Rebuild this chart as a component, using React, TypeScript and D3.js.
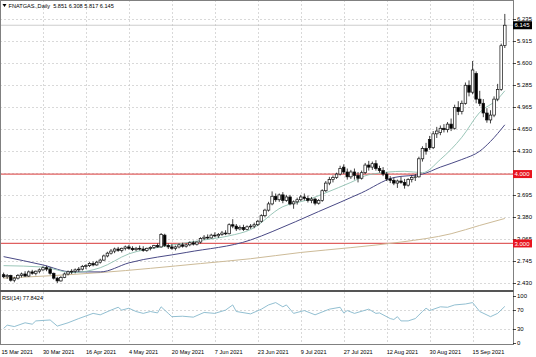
import React from 'react';
import * as d3 from 'd3';

// ---------- data ----------
const dateLabels = ['15 Mar 2021','30 Mar 2021','16 Apr 2021','4 May 2021','20 May 2021','7 Jun 2021','23 Jun 2021','9 Jul 2021','27 Jul 2021','12 Aug 2021','30 Aug 2021','15 Sep 2021'];
const dateLabelIdx = [0,11,23,35,47,59,71,83,95,107,119,131];

const opens = [2.55,2.52,2.54,2.47,2.50,2.54,2.56,2.53,2.59,2.57,2.60,2.62,2.65,2.63,2.57,2.50,2.46,2.51,2.56,2.59,
2.60,2.62,2.63,2.67,2.68,2.71,2.69,2.73,2.76,2.82,2.86,2.89,2.92,2.90,2.93,2.95,2.93,2.91,2.93,2.92,
2.90,2.93,2.94,2.97,2.95,3.12,2.97,2.95,2.93,2.95,2.98,2.96,2.98,3.01,2.99,3.02,3.07,3.09,3.08,3.12,
3.11,3.13,3.15,3.14,3.27,3.25,3.21,3.23,3.20,3.24,3.25,3.27,3.32,3.40,3.48,3.57,3.68,3.63,3.70,3.62,
3.67,3.57,3.60,3.63,3.67,3.65,3.62,3.64,3.58,3.62,3.76,3.87,3.92,3.95,4.00,4.10,4.03,3.96,4.03,3.98,
3.94,4.02,4.13,4.10,4.15,4.08,4.05,4.00,3.93,3.91,3.87,3.90,3.88,3.84,3.92,3.95,3.96,4.22,4.37,4.50,
4.38,4.58,4.60,4.66,4.64,4.72,4.66,4.96,4.90,5.02,5.28,5.18,5.45,5.08,5.02,4.88,4.78,4.85,5.08,5.22,5.851];
const highs = [2.58,2.56,2.55,2.52,2.56,2.58,2.60,2.61,2.62,2.61,2.64,2.67,2.68,2.66,2.58,2.52,2.53,2.58,2.61,2.63,
2.64,2.66,2.69,2.70,2.73,2.74,2.75,2.78,2.84,2.88,2.92,2.94,2.95,2.94,2.97,2.98,2.96,2.95,2.97,2.96,
2.94,2.96,2.98,3.00,3.15,3.14,3.00,2.99,2.97,3.00,3.01,3.00,3.03,3.04,3.03,3.09,3.12,3.13,3.14,3.16,
3.15,3.18,3.19,3.29,3.35,3.28,3.26,3.27,3.26,3.28,3.30,3.34,3.42,3.50,3.60,3.75,3.72,3.72,3.74,3.70,
3.70,3.62,3.66,3.70,3.72,3.69,3.67,3.66,3.64,3.78,3.90,3.96,3.98,4.02,4.12,4.14,4.08,4.06,4.08,4.03,
4.05,4.16,4.19,4.18,4.20,4.12,4.10,4.03,3.97,3.95,3.92,3.96,3.93,3.94,3.98,4.00,4.25,4.40,4.45,4.55,
4.62,4.68,4.70,4.72,4.75,4.80,5.00,5.05,5.06,5.32,5.35,5.63,5.48,5.20,5.08,4.95,4.92,5.12,5.30,5.88,6.308];
const lows = [2.50,2.49,2.45,2.44,2.48,2.51,2.52,2.52,2.55,2.54,2.57,2.60,2.60,2.55,2.48,2.43,2.45,2.50,2.54,2.56,
2.57,2.59,2.61,2.63,2.66,2.67,2.68,2.71,2.75,2.80,2.84,2.86,2.88,2.87,2.90,2.91,2.89,2.89,2.90,2.88,
2.88,2.90,2.92,2.94,2.94,2.95,2.92,2.91,2.90,2.93,2.94,2.94,2.96,2.97,2.97,3.00,3.05,3.06,3.07,3.09,
3.08,3.11,3.12,3.13,3.22,3.18,3.19,3.18,3.19,3.21,3.22,3.25,3.30,3.38,3.46,3.55,3.60,3.60,3.58,3.60,
3.55,3.50,3.56,3.61,3.62,3.59,3.58,3.55,3.56,3.60,3.74,3.84,3.88,3.93,3.98,4.00,3.92,3.93,3.92,3.88,
3.92,4.00,4.05,4.06,4.05,4.02,3.97,3.90,3.87,3.84,3.80,3.86,3.79,3.82,3.88,3.90,3.95,4.18,4.28,4.35,
4.36,4.52,4.56,4.60,4.60,4.62,4.64,4.85,4.86,5.00,5.12,5.15,5.02,4.98,4.82,4.74,4.73,4.82,5.05,5.20,5.817];
const closes = [2.52,2.54,2.47,2.50,2.54,2.56,2.53,2.59,2.57,2.60,2.62,2.65,2.63,2.57,2.50,2.46,2.51,2.56,2.59,2.60,
2.62,2.63,2.67,2.68,2.71,2.69,2.73,2.76,2.82,2.86,2.89,2.92,2.90,2.93,2.95,2.93,2.91,2.93,2.92,2.90,
2.93,2.94,2.97,2.95,3.13,2.97,2.95,2.93,2.95,2.98,2.96,2.98,3.01,2.99,3.02,3.07,3.09,3.08,3.12,3.11,
3.13,3.15,3.14,3.27,3.25,3.21,3.23,3.20,3.24,3.25,3.27,3.32,3.40,3.48,3.57,3.68,3.63,3.70,3.62,3.67,
3.57,3.60,3.63,3.67,3.65,3.62,3.64,3.58,3.62,3.76,3.87,3.92,3.95,4.00,4.08,4.03,3.96,4.03,3.98,3.94,
4.02,4.13,4.10,4.15,4.08,4.05,4.00,3.93,3.91,3.87,3.90,3.88,3.84,3.92,3.95,3.96,4.22,4.37,4.33,4.38,
4.58,4.62,4.66,4.64,4.72,4.66,4.96,4.90,5.02,5.28,5.18,5.50,5.08,5.02,4.88,4.78,4.85,5.08,5.22,5.85,6.145];

// moving averages (bar index, value)
const maFastIdx = [0,11,19,27,35,44,56,63,69,78,85,90,97,102,112,117,122,128,133,138,140];
const maFastVal = [2.68,2.66,2.58,2.65,2.85,2.95,3.05,3.11,3.20,3.53,3.63,3.73,3.88,3.99,4.04,4.02,4.21,4.53,4.89,5.08,5.20];
const maMidIdx = [0,11,19,27,35,51,69,75,88,100,109,117,122,128,133,136,140];
const maMidVal = [2.81,2.69,2.59,2.59,2.72,2.87,3.05,3.17,3.46,3.73,3.95,4.00,4.10,4.21,4.33,4.47,4.71];
const maSlowIdx = [0,27,55,69,83,97,111,125,133,140];
const maSlowVal = [2.50,2.58,2.71,2.78,2.87,2.94,3.02,3.14,3.26,3.36];

const rsiIdx = [0,1,3,6,8,9,13,15,18,21,25,27,30,32,33,35,37,39,41,43,44,46,47,50,53,56,59,62,64,65,69,72,74,76,78,79,81,84,87,91,94,95,96,98,102,104,105,108,109,110,111,113,115,117,118,119,122,124,126,129,131,133,136,138,140];
const rsiVal = [31,38,35,43,40,47,49,36,43,52,63,60,70,76,70,74,67,63,67,64,77,63,56,57,55,65,63,70,81,67,62,72,81,86,77,81,63,69,60,72,76,64,69,63,72,63,64,52,50,56,47,47,52,67,74,69,77,76,81,83,86,67,56,63,77.84];

const priceTicks = [6.235,5.915,5.600,5.285,4.965,4.650,4.330,4.010,3.695,3.380,3.065,2.745,2.430];
const hiddenTickLabels = [4.010];
const levelLines = [4.000, 3.000];
const rsiTicks = [100,70,30,0];
const rsiGrid = [70,30];
const header = 'FNATGAS.,Daily  5.851 6.308 5.817 6.145';
const rsiTitle = 'RSI(14) 77.8424';

// ---------- layout ----------
const W = 536, H = 357;
const PR = 513;
const MAIN_TOP = 0, MAIN_BOT = 290;
const RSI_TOP = 292, RSI_BOT = 344;
const FONT = '"Liberation Sans", Arial, sans-serif';

export default function App() {
  const n = closes.length;
  const x = d3.scaleLinear().domain([0, n - 1]).range([3.6, 3.6 + (n - 1) * 3.58]);
  const y = d3.scaleLinear().domain([2.43, 6.235]).range([283, 19]);
  const yr = d3.scaleLinear().domain([0, 100]).range([343, 296]);
  const bw = 2.6;

  const maLine = d3.line<number>().curve(d3.curveMonotoneX);
  const mk = (idx: number[], val: number[]) =>
    maLine(idx.map((d, i) => [x(d), y(val[i])] as any) as any) || '';
  const rsiPath = d3.line<[number, number]>()(rsiIdx.map((d, i) => [x(d), yr(rsiVal[i])])) || '';

  const last = closes[n - 1];

  return (
    <svg width={W} height={H} style={{ position: 'absolute', left: 0, top: 0, background: '#fff' }}
      fontFamily={FONT}>
      <defs>
        <clipPath id="mainClip"><rect x={0} y={MAIN_TOP} width={PR} height={MAIN_BOT - MAIN_TOP} /></clipPath>
        <clipPath id="rsiClip"><rect x={0} y={RSI_TOP} width={PR} height={RSI_BOT - RSI_TOP} /></clipPath>
      </defs>
      <rect x={0} y={0} width={W} height={H} fill="#fff" />

      {/* horizontal grid main */}
      {priceTicks.map((t) => (
        <line key={'g' + t} x1={0} x2={PR} y1={Math.round(y(t)) + 0.5} y2={Math.round(y(t)) + 0.5}
          stroke="#c8c8c8" strokeWidth={0.7} strokeDasharray="2,2" />
      ))}
      {/* vertical grid */}
      {dateLabelIdx.slice(1).map((d) => (
        <g key={'v' + d}>
          <line x1={Math.round(x(d)) + 0.5} x2={Math.round(x(d)) + 0.5} y1={MAIN_TOP} y2={MAIN_BOT}
            stroke="#c8c8c8" strokeWidth={0.7} strokeDasharray="2,2" />
          <line x1={Math.round(x(d)) + 0.5} x2={Math.round(x(d)) + 0.5} y1={RSI_TOP} y2={RSI_BOT}
            stroke="#c8c8c8" strokeWidth={0.7} strokeDasharray="2,2" />
        </g>
      ))}
      {/* rsi grid */}
      {rsiGrid.map((t) => (
        <line key={'rg' + t} x1={0} x2={PR} y1={Math.round(yr(t)) + 0.5} y2={Math.round(yr(t)) + 0.5}
          stroke="#c8c8c8" strokeWidth={0.7} strokeDasharray="2,2" />
      ))}

      {/* level lines */}
      {levelLines.map((l) => (
        <line key={'l' + l} x1={0} x2={PR} y1={y(l)} y2={y(l)} stroke="#e06060" strokeWidth={1.2} />
      ))}
      {/* current price line */}
      <line x1={0} x2={PR} y1={y(last)} y2={y(last)} stroke="#c0c0c0" strokeWidth={0.8} />

      <g clipPath="url(#mainClip)">
        {/* moving averages */}
        <path d={mk(maSlowIdx, maSlowVal)} fill="none" stroke="#cdbb98" strokeWidth={1} />
        <path d={mk(maMidIdx, maMidVal)} fill="none" stroke="#4a4a86" strokeWidth={1} />
        <path d={mk(maFastIdx, maFastVal)} fill="none" stroke="#8fc0b0" strokeWidth={0.9} />

        {/* candles */}
        {closes.map((c, i) => {
          const o = opens[i];
          const up = c >= o;
          const cx = x(i);
          const top = y(Math.max(o, c));
          const bot = y(Math.min(o, c));
          return (
            <g key={'c' + i}>
              <line x1={cx} x2={cx} y1={y(highs[i])} y2={y(lows[i])} stroke="#111" strokeWidth={0.8} />
              <rect x={cx - bw / 2} y={top} width={bw} height={Math.max(bot - top, 0.8)}
                fill={up ? '#fff' : '#000'} stroke="#111" strokeWidth={0.7} />
            </g>
          );
        })}
      </g>

      {/* rsi line */}
      <g clipPath="url(#rsiClip)">
        <path d={rsiPath} fill="none" stroke="#86b8cc" strokeWidth={0.9} />
      </g>

      {/* borders */}
      <rect x={0.5} y={0.5} width={PR} height={RSI_BOT} fill="none" stroke="#808080" strokeWidth={1} />
      <line x1={0} x2={PR + 0.5} y1={MAIN_BOT + 1} y2={MAIN_BOT + 1} stroke="#555" strokeWidth={2} />

      {/* right axis ticks */}
      {priceTicks.map((t) => (
        <g key={'t' + t}>
          <line x1={PR} x2={PR + 3} y1={Math.round(y(t)) + 0.5} y2={Math.round(y(t)) + 0.5} stroke="#000" strokeWidth={0.7} />
          {hiddenTickLabels.includes(t) ? null : (
            <text x={PR + 4} y={y(t)} dy="0.35em" fontSize={6} fill="#000">{t.toFixed(3)}</text>
          )}
        </g>
      ))}
      {rsiTicks.map((t) => (
        <g key={'rt' + t}>
          <line x1={PR} x2={PR + 3} y1={Math.round(yr(t)) + 0.5} y2={Math.round(yr(t)) + 0.5} stroke="#000" strokeWidth={0.7} />
          <text x={PR + 4} y={yr(t)} dy="0.35em" fontSize={6} fill="#000">{t}</text>
        </g>
      ))}

      {/* level boxes */}
      {levelLines.map((l) => (
        <g key={'lb' + l}>
          <rect x={PR} y={y(l) - 4} width={19} height={8} fill="#e8141e" />
          <text x={PR + 1.5} y={y(l)} dy="0.35em" fontSize={6} fill="#fff">{l.toFixed(3)}</text>
        </g>
      ))}
      <g>
        <rect x={PR} y={y(last) - 4} width={19} height={8} fill="#000" />
        <text x={PR + 1.5} y={y(last)} dy="0.35em" fontSize={6} fill="#fff">{last.toFixed(3)}</text>
      </g>

      {/* date labels */}
      {dateLabelIdx.map((d, i) => (
        <text key={'d' + d} x={i === 0 ? 1.5 : x(d)} y={354} fontSize={5.6} fill="#000">{dateLabels[i]}</text>
      ))}

      {/* titles */}
      <path d="M2.5,4 L6.5,4 L4.5,7 Z" fill="#000" />
      <text x={8.5} y={7.5} fontSize={5.6} fill="#000" style={{ whiteSpace: 'pre' }}>{header}</text>
      <text x={2} y={300} fontSize={5.6} fill="#000">{rsiTitle}</text>
    </svg>
  );
}
